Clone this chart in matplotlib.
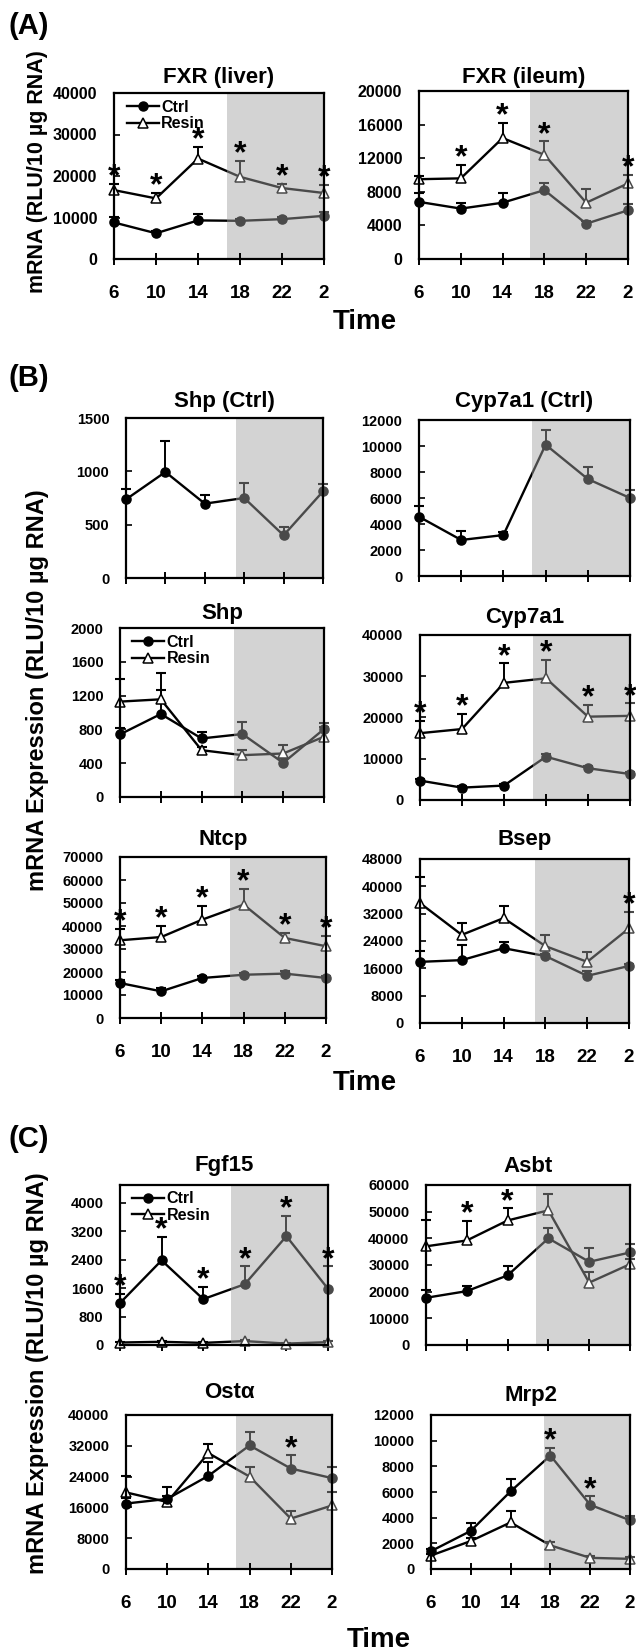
import numpy as np
import matplotlib
matplotlib.use("Agg")
import matplotlib.pyplot as plt
from matplotlib.patches import Rectangle
from matplotlib.lines import Line2D

# ---------------- data ----------------
hours = ["6", "10", "14", "18", "22", "2"]

fxr_liver_ctrl = [8800, 6200, 9300, 9200, 9600, 10400]
fxr_liver_ctrl_err = [1400, 500, 1500, 500, 500, 900]
fxr_liver_resin = [16600, 14600, 24200, 19800, 17100, 15900]
fxr_liver_resin_err = [1500, 1300, 2800, 3800, 1000, 1900]

fxr_ileum_ctrl = [6800, 6000, 6700, 8200, 4200, 5800]
fxr_ileum_ctrl_err = [1100, 700, 1100, 900, 300, 800]
fxr_ileum_resin = [9500, 9600, 14400, 12400, 6700, 9000]
fxr_ileum_resin_err = [400, 1600, 1800, 1600, 1600, 1000]

shp_ctrl_only = [737, 994, 697, 750, 400, 812]
shp_ctrl_only_err = [94, 287, 84, 144, 78, 66]

cyp7a1_ctrl_only = [4560, 2770, 3150, 10100, 7460, 6000]
cyp7a1_ctrl_only_err = [840, 730, 200, 1100, 940, 600]

shp_ctrl = [741, 982, 693, 745, 404, 804]
shp_ctrl_err = [71, 285, 79, 146, 60, 67]
shp_resin = [1129, 1156, 554, 495, 515, 713]
shp_resin_err = [265, 309, 40, 67, 99, 120]

cyp7a1_ctrl = [4700, 3000, 3500, 10500, 7700, 6300]
cyp7a1_ctrl_err = [400, 300, 300, 600, 500, 400]
cyp7a1_resin = [16200, 17200, 28400, 29500, 20200, 20400]
cyp7a1_resin_err = [3000, 3600, 4700, 4400, 2800, 3000]

ntcp_ctrl = [15200, 11600, 17400, 18800, 19300, 17400]
ntcp_ctrl_err = [1500, 1400, 800, 800, 1000, 800]
ntcp_resin = [33800, 35200, 42800, 49300, 34800, 31200]
ntcp_resin_err = [5000, 4900, 5800, 6900, 2200, 4600]

bsep_ctrl = [17900, 18400, 21900, 19600, 13800, 16700]
bsep_ctrl_err = [3100, 4500, 1900, 600, 1500, 600]
bsep_resin = [35100, 25800, 30700, 22500, 17900, 27700]
bsep_resin_err = [7600, 3600, 3400, 3300, 3000, 4700]

fgf15_ctrl = [1180, 2380, 1290, 1710, 3060, 1580]
fgf15_ctrl_err = [250, 650, 340, 500, 580, 630]
fgf15_resin = [70, 90, 60, 110, 40, 80]
fgf15_resin_err = [20, 20, 20, 30, 20, 20]

asbt_ctrl = [17700, 20200, 26100, 40000, 31200, 34700]
asbt_ctrl_err = [3100, 1900, 3600, 3800, 5100, 3200]
asbt_resin = [37000, 39200, 46700, 50500, 23400, 30300]
asbt_resin_err = [9700, 7200, 4500, 6000, 4000, 2000]

osta_ctrl = [17000, 18200, 24200, 32100, 26100, 23600]
osta_ctrl_err = [1500, 3100, 3600, 3400, 3400, 2800]
osta_resin = [19900, 17400, 30100, 24000, 13100, 16500]
osta_resin_err = [4300, 1500, 2400, 2600, 2000, 3400]

mrp2_ctrl = [1390, 2970, 6050, 8840, 5000, 3800]
mrp2_ctrl_err = [200, 580, 1000, 580, 660, 300]
mrp2_resin = [1050, 2180, 3630, 1840, 870, 790]
mrp2_resin_err = [150, 200, 920, 260, 180, 150]

# ---------------- style ----------------
plt.rcParams["font.family"] = ["Liberation Sans", "DejaVu Sans"]
plt.rcParams["font.weight"] = "bold"

W, H = 636, 1652
fig = plt.figure(figsize=(W / 100, H / 100), dpi=100)

DARK = "black"
SHADED = "#4a4a4a"
SHADE_FILL = "#d3d3d3"


def add_ax(l, t, r, b):
    return fig.add_axes([l / W, 1 - b / H, (r - l) / W, (b - t) / H])


def draw_series(ax, y, err, marker, filled, shade_x, ms):
    x = np.arange(len(y))
    y = np.asarray(y, float)
    err = np.asarray(err, float)
    for color, x0, x1 in [(DARK, -1.0, shade_x), (SHADED, shade_x, 6.0)]:
        rect = Rectangle((x0, -1e7), x1 - x0, 2e7, transform=ax.transData)
        arts = []
        arts.append(ax.vlines(x, y, y + err, colors=color, lw=1.4, zorder=2))
        arts += ax.plot(x, y + err, ls="none", marker="_", ms=6.5, mew=1.5,
                        color=color, zorder=2)
        arts += ax.plot(x, y, "-", color=color, lw=1.7, marker=marker, ms=ms,
                        mfc=(color if filled else "white"), mec=color, mew=1.1,
                        zorder=3)
        for a in arts:
            a.set_clip_path(rect)


def star(ax, xi, top):
    ax.annotate("*", xy=(xi, top), xytext=(0, -1.0), textcoords="offset points",
                ha="center", va="baseline", fontsize=23, fontweight="bold",
                annotation_clip=False, zorder=5)


panels = [
    dict(rect=(114, 93, 324, 259), title="FXR (liver)", ty=77, ymax=40000, step=10000, ysize=11.5,
         ctrl=(fxr_liver_ctrl, fxr_liver_ctrl_err), resin=(fxr_liver_resin, fxr_liver_resin_err),
         stars=("r", [0, 1, 2, 3, 4, 5]), legend=True, xlab=True, shade=2.69),
    dict(rect=(419, 91, 628, 259), title="FXR (ileum)", ty=77, ymax=20000, step=4000, ysize=11.5,
         ctrl=(fxr_ileum_ctrl, fxr_ileum_ctrl_err), resin=(fxr_ileum_resin, fxr_ileum_resin_err),
         stars=("r", [1, 2, 3, 5]), legend=False, xlab=True, shade=2.66),
    dict(rect=(126, 418, 323, 578), title="Shp (Ctrl)", ty=402, ymax=1500, step=500, ysize=10.5,
         ctrl=(shp_ctrl_only, shp_ctrl_only_err), resin=None,
         stars=("c", []), legend=False, xlab=False, shade=2.78),
    dict(rect=(419, 420, 630, 576), title="Cyp7a1 (Ctrl)", ty=402, ymax=12000, step=2000, ysize=10.5,
         ctrl=(cyp7a1_ctrl_only, cyp7a1_ctrl_only_err), resin=None,
         stars=("c", []), legend=False, xlab=False, shade=2.67),
    dict(rect=(120, 628, 324, 797), title="Shp", ty=613, ymax=2000, step=400, ysize=10.5,
         ctrl=(shp_ctrl, shp_ctrl_err), resin=(shp_resin, shp_resin_err),
         stars=("r", []), legend=True, xlab=False, shade=2.8),
    dict(rect=(420, 635, 630, 800), title="Cyp7a1", ty=617, ymax=40000, step=10000, ysize=10.5,
         ctrl=(cyp7a1_ctrl, cyp7a1_ctrl_err), resin=(cyp7a1_resin, cyp7a1_resin_err),
         stars=("r", [0, 1, 2, 3, 4, 5]), legend=False, xlab=False, shade=2.69),
    dict(rect=(120, 857, 326, 1018), title="Ntcp", ty=840, ymax=70000, step=10000, ysize=10.5,
         ctrl=(ntcp_ctrl, ntcp_ctrl_err), resin=(ntcp_resin, ntcp_resin_err),
         stars=("r", [0, 1, 2, 3, 4, 5]), legend=False, xlab=True, shade=2.68),
    dict(rect=(420, 859, 629, 1023), title="Bsep", ty=840, ymax=48000, step=8000, ysize=10.5,
         ctrl=(bsep_ctrl, bsep_ctrl_err), resin=(bsep_resin, bsep_resin_err),
         stars=("r", [5]), legend=False, xlab=True, shade=2.76),
    dict(rect=(120, 1185, 328, 1345), title="Fgf15", ty=1165, ymax=4500, step=800, tickmax=4000, ysize=10.5,
         ctrl=(fgf15_ctrl, fgf15_ctrl_err), resin=(fgf15_resin, fgf15_resin_err),
         stars=("c", [0, 1, 2, 3, 4, 5]), legend=True, xlab=False, shade=2.67),
    dict(rect=(426, 1185, 630, 1345), title="Asbt", ty=1167, ymax=60000, step=10000, ysize=10.5,
         ctrl=(asbt_ctrl, asbt_ctrl_err), resin=(asbt_resin, asbt_resin_err),
         stars=("r", [1, 2]), legend=False, xlab=False, shade=2.69),
    dict(rect=(126, 1415, 332, 1569), title="Ost\u03b1", ty=1393, ymax=40000, step=8000, ysize=10.5,
         ctrl=(osta_ctrl, osta_ctrl_err), resin=(osta_resin, osta_resin_err),
         stars=("c", [4]), legend=False, xlab=True, shade=2.66),
    dict(rect=(431, 1415, 630, 1569), title="Mrp2", ty=1395, ymax=12000, step=2000, ysize=10.5,
         ctrl=(mrp2_ctrl, mrp2_ctrl_err), resin=(mrp2_resin, mrp2_resin_err),
         stars=("c", [3, 4]), legend=False, xlab=True, shade=2.85),
]

for p in panels:
    l, t, r, b = p["rect"]
    ax = add_ax(l, t, r, b)
    ax.set_xlim(0, 5)
    ax.set_ylim(0, p["ymax"])
    ax.axvspan(p["shade"], 5, color=SHADE_FILL, lw=0, zorder=0)
    if p["resin"] is not None:
        draw_series(ax, p["resin"][0], p["resin"][1], "^", False, p["shade"], 7.5)
    draw_series(ax, p["ctrl"][0], p["ctrl"][1], "o", True, p["shade"], 6.5)

    which, idxs = p["stars"]
    src = p["resin"] if which == "r" else p["ctrl"]
    for i in idxs:
        star(ax, i, src[0][i] + src[1][i])

    ax.set_xticks(range(len(hours)))
    ax.set_xticklabels(hours if p["xlab"] else [])
    tmax = p.get("tickmax", p["ymax"])
    ax.set_yticks(np.arange(0, tmax + 1, p["step"]))
    ax.tick_params(axis="x", direction="inout", length=9, width=1.4, pad=14,
                   labelsize=13.5, labelbottom=p["xlab"])
    ax.tick_params(axis="y", direction="in", length=4, width=1.2, pad=12,
                   labelsize=p["ysize"])
    for lab in ax.get_xticklabels() + ax.get_yticklabels():
        lab.set_fontweight("bold")
    for s in ax.spines.values():
        s.set_linewidth(1.6)
        s.set_zorder(4)

    if p["legend"]:
        handles = [
            Line2D([], [], color="black", lw=1.7, marker="o", ms=6.5, mfc="black"),
            Line2D([], [], color="black", lw=1.7, marker="^", ms=7.5, mfc="white", mew=1.1),
        ]
        ax.legend(handles, ["Ctrl", "Resin"], loc="upper left",
                  bbox_to_anchor=(0.06, 0.96), frameon=False,
                  handlelength=2.0, handletextpad=0.15, labelspacing=0.1,
                  borderaxespad=0, borderpad=0,
                  prop=dict(weight="bold", size=11.5))

    fig.text(((l + r) / 2) / W, 1 - p["ty"] / H, p["title"], ha="center", va="center",
             fontsize=16, fontweight="bold")

# panel letters
for letter, yc in [("(A)", 26), ("(B)", 378), ("(C)", 1139)]:
    fig.text(8 / W, 1 - yc / H, letter, ha="left", va="center", fontsize=21,
             fontweight="bold")

# y labels
for txt, yc, fs in [("mRNA (RLU/10 \u00b5g RNA)", 172, 15.5),
                    ("mRNA Expression (RLU/10 \u00b5g RNA)", 690, 17),
                    ("mRNA Expression (RLU/10 \u00b5g RNA)", 1373, 17)]:
    fig.text(38 / W, 1 - yc / H, txt, rotation=90, ha="center", va="center",
             fontsize=fs, fontweight="bold")

# x labels
for xc, yc in [(365, 322), (365, 1083), (379, 1640)]:
    fig.text(xc / W, 1 - yc / H, "Time", ha="center", va="center", fontsize=20,
             fontweight="bold")

fig.savefig("out.png", dpi=100)
